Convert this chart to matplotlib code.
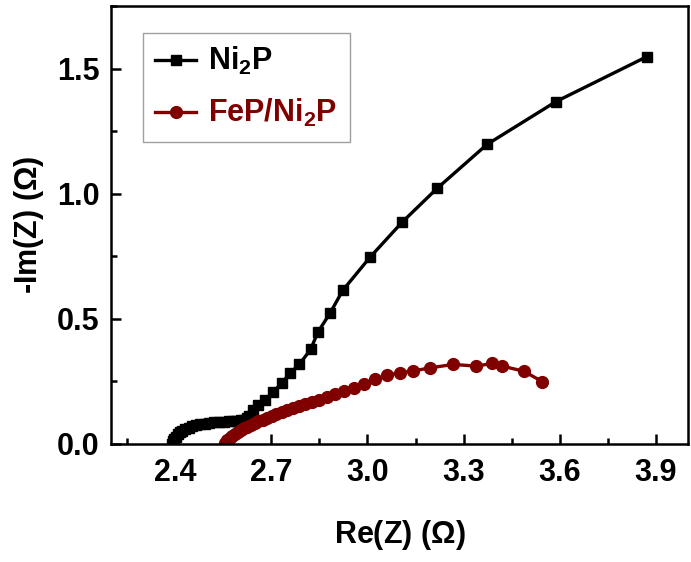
import matplotlib
matplotlib.use("Agg")
import matplotlib.pyplot as plt
from matplotlib.ticker import MultipleLocator

plt.rcParams['font.family'] = ['Liberation Sans', 'DejaVu Sans']
plt.rcParams['font.weight'] = 'bold'
plt.rcParams['mathtext.fontset'] = 'custom'
plt.rcParams['mathtext.bf'] = 'Liberation Sans:bold'
plt.rcParams['mathtext.rm'] = 'Liberation Sans:bold'

# Ni2P data
ni2p_re = [2.390, 2.393, 2.397, 2.402, 2.408, 2.415, 2.423, 2.432, 2.442, 2.453,
           2.465, 2.478, 2.492, 2.507, 2.522, 2.537, 2.552, 2.567, 2.581, 2.594,
           2.605, 2.615, 2.623, 2.630, 2.644, 2.660, 2.680, 2.706, 2.732, 2.758,
           2.788, 2.823, 2.845, 2.884, 2.923, 3.008, 3.108, 3.217, 3.373, 3.588, 3.872]
ni2p_im = [0.000, 0.010, 0.020, 0.029, 0.038, 0.046, 0.053, 0.059, 0.065, 0.070,
           0.074, 0.078, 0.081, 0.084, 0.086, 0.088, 0.089, 0.090, 0.091, 0.092,
           0.094, 0.097, 0.102, 0.110, 0.136, 0.156, 0.176, 0.209, 0.242, 0.282,
           0.319, 0.378, 0.446, 0.524, 0.614, 0.746, 0.886, 1.021, 1.197, 1.368, 1.548]

# FeP/Ni2P data
fep_re = [2.555, 2.562, 2.570, 2.578, 2.587, 2.596, 2.605, 2.615, 2.625, 2.636,
          2.648, 2.660, 2.673, 2.687, 2.701, 2.716, 2.732, 2.749, 2.767, 2.786,
          2.806, 2.827, 2.850, 2.874, 2.900, 2.928, 2.958, 2.990, 3.024, 3.060,
          3.100, 3.143, 3.195, 3.268, 3.339, 3.390, 3.421, 3.487, 3.546]
fep_im = [0.005, 0.014, 0.023, 0.031, 0.039, 0.047, 0.055, 0.062, 0.069, 0.076,
          0.083, 0.090, 0.097, 0.104, 0.111, 0.121, 0.128, 0.136, 0.143, 0.150,
          0.158, 0.166, 0.175, 0.186, 0.198, 0.210, 0.224, 0.240, 0.258, 0.274,
          0.285, 0.292, 0.304, 0.318, 0.311, 0.322, 0.311, 0.291, 0.249]

x_ticks = [2.4, 2.7, 3.0, 3.3, 3.6, 3.9]
y_ticks = [0.0, 0.5, 1.0, 1.5]

red = '#800000'
fs = 22

fig = plt.figure(figsize=(6.91, 5.62), dpi=100)
ax = fig.add_axes([0.1606, 0.21, 0.8351, 0.7793])

ax.plot(ni2p_re, ni2p_im, color='black', lw=2.4, marker='s', ms=6.5,
        label=r'$\mathbf{Ni_2P}$')
ax.plot(fep_re, fep_im, color=red, lw=2.4, marker='o', ms=8.5,
        label=r'$\mathbf{FeP/Ni_2P}$')

ax.set_xlim(2.2, 4.0)
ax.set_ylim(0, 1.75)
ax.set_xticks(x_ticks)
ax.set_xticklabels([f'{v:.1f}' for v in x_ticks])
ax.set_yticks(y_ticks)
ax.set_yticklabels([f'{v:.1f}' for v in y_ticks])
ax.xaxis.set_minor_locator(MultipleLocator(0.15))
ax.yaxis.set_minor_locator(MultipleLocator(0.25))

ax.tick_params(which='both', direction='in', top=False, right=False, width=1.8,
               labelsize=fs)
ax.tick_params(which='major', length=7)
ax.tick_params(which='minor', length=4)
ax.tick_params(axis='x', pad=10)
ax.tick_params(axis='y', pad=8)
for lbl in ax.get_xticklabels() + ax.get_yticklabels():
    lbl.set_fontweight('bold')
for s in ax.spines.values():
    s.set_linewidth(1.8)

ax.set_xlabel(r'Re(Z) ($\Omega$)', fontsize=fs, fontweight='bold', labelpad=22)
ax.set_ylabel(r'-Im(Z) ($\Omega$)', fontsize=fs, fontweight='bold', labelpad=8)

leg = ax.legend(loc='upper left', bbox_to_anchor=(0.055, 0.938), borderaxespad=0,
                fontsize=fs, frameon=True, fancybox=False, edgecolor='#888888',
                labelcolor='linecolor', handlelength=1.35, handletextpad=0.4,
                borderpad=0.4, labelspacing=0.65)
leg.get_frame().set_linewidth(1.0)

fig.savefig('out.png', dpi=100)
